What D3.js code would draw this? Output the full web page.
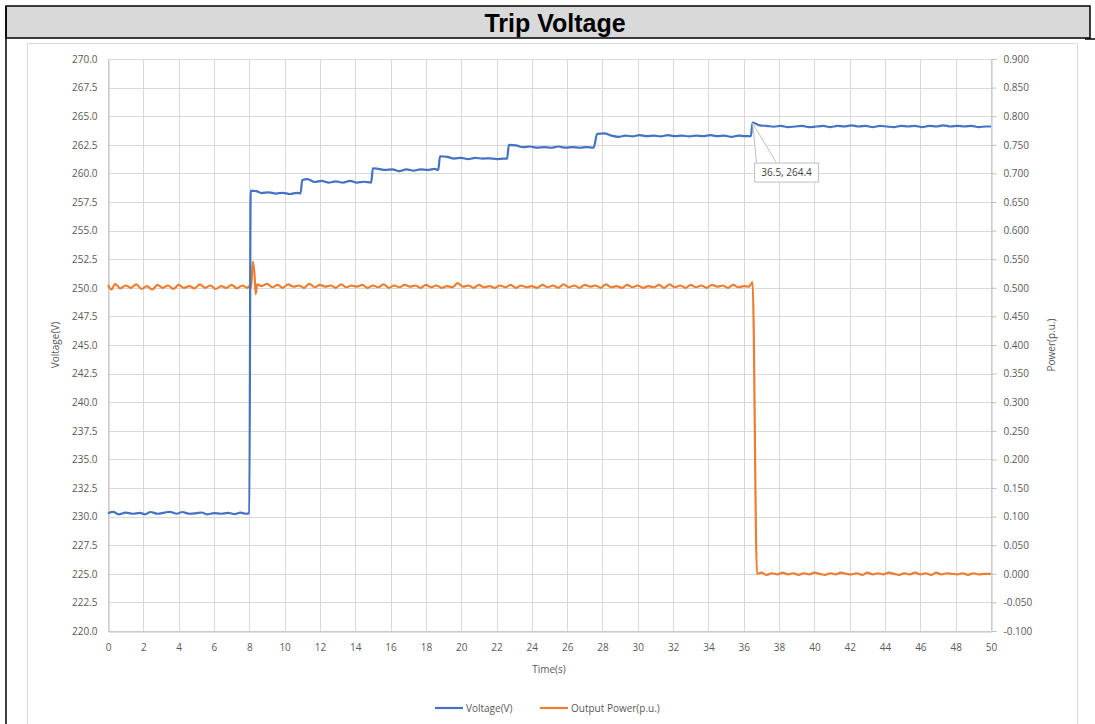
<!DOCTYPE html>
<html><head><meta charset="utf-8">
<script src="https://cdn.jsdelivr.net/npm/d3@7"></script>
<style>body{margin:0;background:#fff}svg{display:block}</style>
</head><body>
<script>
const titleText = "Trip Voltage";
const xTicks = [0,2,4,6,8,10,12,14,16,18,20,22,24,26,28,30,32,34,36,38,40,42,44,46,48,50];
const voltTicks = [220,222.5,225,227.5,230,232.5,235,237.5,240,242.5,245,247.5,250,252.5,255,257.5,260,262.5,265,267.5,270];
const powerTicks = [-0.1,-0.05,0,0.05,0.1,0.15,0.2,0.25,0.3,0.35,0.4,0.45,0.5,0.55,0.6,0.65,0.7,0.75,0.8,0.85,0.9];
const seriesNames = ["Voltage(V)", "Output Power(p.u.)"];
const annotation = {t: 36.5, v: 264.4, label: "36.5, 264.4"};

const voltTime = [0,0.3,0.6,1.0,1.4,1.8,2.1,2.4,2.8,3.2,3.5,3.9,4.2,4.6,5.0,5.3,5.6,6.0,6.4,6.8,7.2,7.5,7.8,8.0,
 8.08,8.4,8.7,9.1,9.5,9.9,10.3,10.7,10.9,
 11.0,11.3,11.7,12.1,12.5,12.9,13.3,13.7,14.1,14.5,14.9,
 15.0,15.3,15.7,16.1,16.5,16.9,17.3,17.7,18.1,18.5,18.7,
 18.8,19.2,19.6,20.0,20.4,20.8,21.2,21.6,22.0,22.4,22.6,
 22.7,23.1,23.5,23.9,24.3,24.7,25.1,25.5,25.9,26.3,26.7,27.1,27.5,
 27.7,28.1,28.5,28.9,29.3,29.7,30.1,30.5,30.9,31.3,31.7,32.1,32.5,32.9,33.3,33.7,34.1,34.5,34.9,35.3,35.7,36.1,36.4,
 36.5,36.9,37.3,37.7,38.1,38.5,38.9,39.3,39.7,40.1,40.5,40.9,41.3,41.7,42.1,42.5,42.9,43.3,43.7,44.1,44.5,44.9,45.3,45.7,46.1,46.5,46.9,47.3,47.7,48.1,48.5,48.9,49.3,49.7,50.0];
const voltValues = [230.3,230.42,230.2,230.35,230.25,230.32,230.2,230.4,230.25,230.35,230.42,230.25,230.4,230.25,230.3,230.36,230.2,230.3,230.25,230.32,230.22,230.35,230.25,230.3,
 258.5,258.45,258.28,258.35,258.24,258.3,258.2,258.3,258.25,
 259.42,259.5,259.25,259.35,259.2,259.3,259.2,259.35,259.2,259.27,259.2,
 260.45,260.4,260.3,260.36,260.2,260.35,260.25,260.35,260.3,260.4,260.3,
 261.5,261.45,261.3,261.36,261.25,261.35,261.3,261.32,261.25,261.3,261.3,
 262.5,262.45,262.3,262.35,262.25,262.3,262.24,262.35,262.25,262.3,262.24,262.3,262.26,
 263.45,263.5,263.3,263.2,263.3,263.24,263.35,263.25,263.3,263.24,263.35,263.25,263.3,263.24,263.3,263.25,263.35,263.25,263.3,263.2,263.3,263.25,263.25,
 264.45,264.2,264.15,264.08,264.16,264.04,264.1,264.16,264.04,264.1,264.15,264.05,264.15,264.1,264.2,264.1,264.15,264.05,264.15,264.1,264.05,264.15,264.1,264.16,264.05,264.15,264.1,264.2,264.1,264.15,264.1,264.15,264.05,264.1,264.1];

const powerTime = [0,0.2,0.4,0.7,1.0,1.3,1.6,1.9,2.2,2.5,2.8,3.1,3.4,3.7,4.0,4.3,4.6,4.9,5.2,5.5,5.8,6.1,6.4,6.7,7.0,7.3,7.6,7.9,8.0,
 8.1,8.2,8.3,8.36,8.45,8.7,9.0,9.3,9.6,9.9,10.2,10.5,10.8,11.1,11.4,11.7,12.0,12.3,12.6,12.9,13.2,13.5,13.8,14.1,14.4,14.7,15.0,
 15.3,15.6,15.9,16.2,16.5,16.8,17.1,17.4,17.7,18.0,18.3,18.6,18.9,19.2,19.5,19.8,20.1,20.4,20.7,21.0,21.3,21.6,21.9,22.2,22.5,
 22.8,23.1,23.4,23.7,24.0,24.3,24.6,24.9,25.2,25.5,25.8,26.1,26.4,26.7,27.0,27.3,27.6,27.9,28.2,28.5,28.8,29.1,29.4,29.7,30.0,
 30.3,30.6,30.9,31.2,31.5,31.8,32.1,32.4,32.7,33.0,33.3,33.6,33.9,34.2,34.5,34.8,35.1,35.4,35.7,36.0,36.3,36.5,
 36.75,37.0,37.3,37.6,37.9,38.2,38.5,38.8,39.1,39.4,39.7,40.0,40.3,40.6,40.9,41.2,41.5,41.8,42.1,42.4,42.7,43.0,43.3,43.6,43.9,
 44.2,44.5,44.8,45.1,45.4,45.7,46.0,46.3,46.6,46.9,47.2,47.5,47.8,48.1,48.4,48.7,49.0,49.3,49.6,50.0];
const powerValues = [0.505,0.497,0.507,0.499,0.504,0.500,0.506,0.498,0.503,0.497,0.505,0.500,0.504,0.498,0.505,0.500,0.503,0.499,0.506,0.500,0.504,0.498,0.503,0.500,0.505,0.499,0.504,0.500,0.503,
 0.500,0.546,0.522,0.489,0.506,0.503,0.507,0.501,0.505,0.500,0.506,0.502,0.504,0.500,0.507,0.501,0.505,0.502,0.504,0.500,0.506,0.501,0.504,0.502,0.505,0.500,0.504,
 0.501,0.506,0.500,0.504,0.501,0.505,0.502,0.504,0.500,0.505,0.501,0.504,0.500,0.503,0.501,0.508,0.502,0.504,0.500,0.505,0.501,0.503,0.500,0.504,0.501,
 0.505,0.500,0.504,0.501,0.503,0.500,0.505,0.501,0.504,0.500,0.506,0.501,0.504,0.500,0.505,0.502,0.504,0.500,0.506,0.501,0.503,0.500,0.505,0.501,0.504,
 0.500,0.503,0.501,0.505,0.500,0.506,0.501,0.504,0.500,0.505,0.501,0.504,0.500,0.505,0.502,0.504,0.500,0.505,0.501,0.503,0.502,0.510,
 0.000,0.002,-0.002,0.001,-0.001,0.002,-0.001,0.001,-0.002,0.001,-0.001,0.002,0.000,-0.002,0.001,-0.001,0.002,0.000,-0.001,0.001,-0.002,0.002,-0.001,0.001,-0.001,
 0.002,0.000,-0.002,0.001,-0.001,0.002,-0.001,0.001,-0.002,0.002,-0.001,0.001,0.000,-0.001,0.001,-0.002,0.001,-0.001,0.000,0.000];

const W = 1095, H = 724;
const m = {left:108, right:991, top:59, bottom:631};
const blue = "#4472C4", orange = "#ED7D31", grid = "#d9d9d9", txt = "#595959";
const font = "'Open Sans', 'DejaVu Sans', sans-serif";

const svg = d3.select("body").append("svg").attr("width", W).attr("height", H);

// outer frame / title band
svg.append("rect").attr("x",6).attr("y",6).attr("width",1084).attr("height",32)
  .attr("fill","#d9d9d9").attr("stroke","#000").attr("stroke-width",1.5);
svg.append("line").attr("x1",6).attr("x2",6).attr("y1",6).attr("y2",H).attr("stroke","#000").attr("stroke-width",1.5);
svg.append("line").attr("x1",1085).attr("x2",1095).attr("y1",39).attr("y2",39).attr("stroke","#000").attr("stroke-width",1.5);
svg.append("text").attr("x",555).attr("y",32).attr("text-anchor","middle")
  .attr("font-family","'Liberation Sans', Arial, sans-serif").attr("font-weight","bold").attr("font-size",25)
  .attr("fill","#000").text(titleText);

// chart area border
svg.append("rect").attr("x",27.5).attr("y",43.5).attr("width",1050).attr("height",700)
  .attr("fill","#fff").attr("stroke",grid).attr("stroke-width",1);

const x = d3.scaleLinear().domain([0,50]).range([m.left, m.right]);
const yV = d3.scaleLinear().domain([220,270]).range([m.bottom, m.top]);
const yP = d3.scaleLinear().domain([-0.1,0.9]).range([m.bottom, m.top]);

// gridlines
const g = svg.append("g");
g.selectAll(".vg").data(xTicks).join("line")
  .attr("x1",d=>Math.round(x(d))+0.5).attr("x2",d=>Math.round(x(d))+0.5)
  .attr("y1",m.top).attr("y2",m.bottom).attr("stroke",grid).attr("stroke-width",1);
g.selectAll(".hg").data(voltTicks).join("line")
  .attr("x1",m.left).attr("x2",m.right)
  .attr("y1",d=>Math.round(yV(d))+0.5).attr("y2",d=>Math.round(yV(d))+0.5)
  .attr("stroke",grid).attr("stroke-width",1);

// axes
const axX = svg.append("g").attr("transform",`translate(0,${m.bottom+0.5})`)
  .call(d3.axisBottom(x).tickValues(xTicks).tickFormat(d3.format("d")).tickSize(0).tickPadding(12));
const axL = svg.append("g").attr("transform",`translate(${m.left+0.5},0)`)
  .call(d3.axisLeft(yV).tickValues(voltTicks).tickFormat(d3.format(".1f")).tickSize(0).tickPadding(11));
const axR = svg.append("g").attr("transform",`translate(${m.right+0.5},0)`)
  .call(d3.axisRight(yP).tickValues(powerTicks).tickFormat(d=>d3.format(".3f")(d).replace("−","-")).tickSize(5).tickPadding(7));
[axX, axL, axR].forEach(a=>{
  a.select(".domain").attr("stroke","#bfbfbf");
  a.selectAll(".tick line").attr("stroke","#bfbfbf");
  a.selectAll("text").attr("fill",txt).attr("font-family",font).attr("font-size",10);
});

// axis titles
svg.append("text").attr("transform","translate(59,345) rotate(-90)").attr("text-anchor","middle")
  .attr("font-family",font).attr("font-size",10).attr("fill",txt).text("Voltage(V)");
svg.append("text").attr("transform","translate(1055,345) rotate(-90)").attr("text-anchor","middle")
  .attr("font-family",font).attr("font-size",10).attr("fill",txt).text("Power(p.u.)");
svg.append("text").attr("x",549).attr("y",673).attr("text-anchor","middle")
  .attr("font-family",font).attr("font-size",10).attr("fill",txt).text("Time(s)");

// series
const vData = voltTime.map((t,i)=>[t, voltValues[i]]);
const pData = powerTime.map((t,i)=>[t, powerValues[i]]);
svg.append("path").datum(pData)
  .attr("d", d3.line().x(d=>x(d[0])).y(d=>yP(d[1])).curve(d3.curveMonotoneX))
  .attr("fill","none").attr("stroke",orange).attr("stroke-width",2.2).attr("stroke-linejoin","round");
svg.append("path").datum(vData)
  .attr("d", d3.line().x(d=>x(d[0])).y(d=>yV(d[1])).curve(d3.curveMonotoneX))
  .attr("fill","none").attr("stroke",blue).attr("stroke-width",2.2).attr("stroke-linejoin","round");

// annotation callout
const ax = x(annotation.t), ay = yV(annotation.v);
const bx = ax + 2, by = ay + 40, bw = 64, bh = 19;
svg.append("path")
  .attr("d", `M${bx+2},${by} L${ax},${ay} L${bx+22},${by}`)
  .attr("fill","#fff").attr("stroke","#bfbfbf").attr("stroke-width",1);
svg.append("rect").attr("x",bx).attr("y",by).attr("width",bw).attr("height",bh)
  .attr("fill","#fff").attr("stroke","#bfbfbf").attr("stroke-width",1);
svg.append("text").attr("x",bx+bw/2).attr("y",by+13).attr("text-anchor","middle")
  .attr("font-family",font).attr("font-size",10).attr("fill","#404040").text(annotation.label);

// legend
const leg = svg.append("g");
const legItems = [{name:seriesNames[0], color:blue, x:435},{name:seriesNames[1], color:orange, x:540}];
legItems.forEach(it=>{
  leg.append("line").attr("x1",it.x).attr("x2",it.x+28).attr("y1",708).attr("y2",708)
    .attr("stroke",it.color).attr("stroke-width",2.2);
  leg.append("text").attr("x",it.x+31).attr("y",711.5)
    .attr("font-family",font).attr("font-size",10).attr("fill",txt).text(it.name);
});
</script>
</body></html>
